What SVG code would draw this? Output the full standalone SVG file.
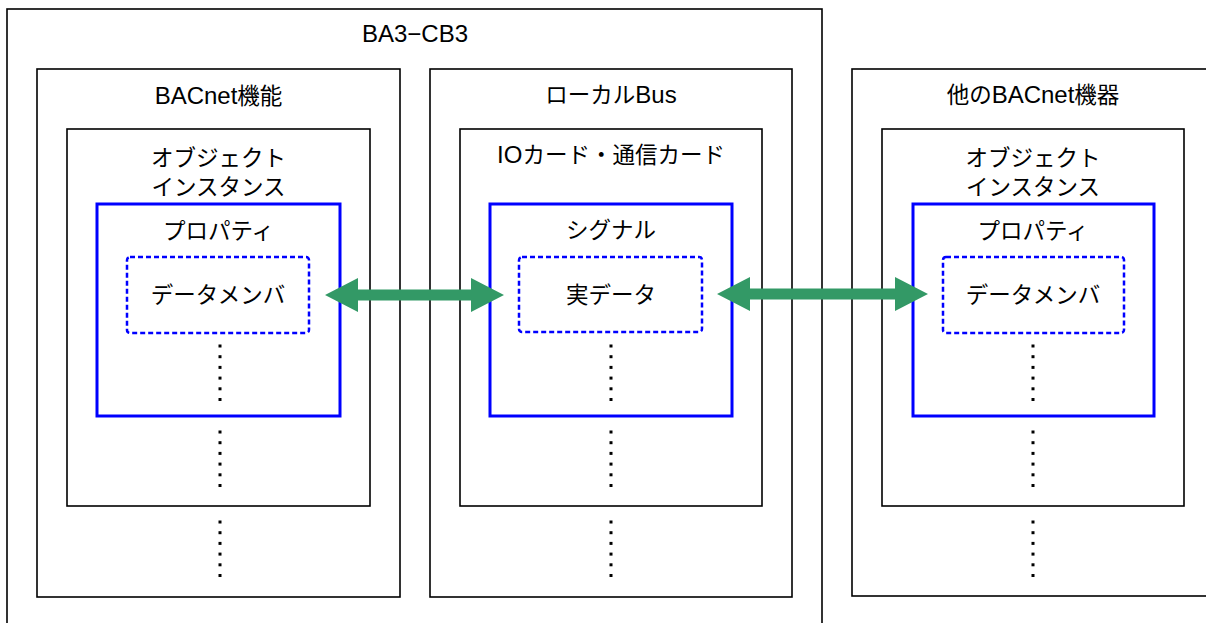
<svg xmlns="http://www.w3.org/2000/svg" xmlns:xlink="http://www.w3.org/1999/xlink" width="1206" height="623" viewBox="0 0 1206 623">
<style>
.box{fill:none;stroke:#000;stroke-width:1.6}
.prop{fill:none;stroke:#0000ff;stroke-width:3}
.dm{fill:none;stroke:#0000ff;stroke-width:2.5;stroke-dasharray:5 3}
.t{font-family:"Liberation Sans","Noto Sans CJK JP",sans-serif;font-size:22.5px;fill:#000;text-anchor:middle}
.l{font-size:24px}
.arr{fill:#339966}
</style>
<defs>
<g id="dots">
<rect x="-1.5" y="-1.5" width="3" height="3"/>
<rect x="-1.5" y="9.2" width="3" height="3"/>
<rect x="-1.5" y="19.9" width="3" height="3"/>
<rect x="-1.5" y="30.6" width="3" height="3"/>
<rect x="-1.5" y="41.3" width="3" height="3"/>
<rect x="-1.5" y="52" width="3" height="3"/>
</g>
</defs>
<rect width="1206" height="623" fill="#fff"/>
<g id="ba3-cb3">
<rect class="box" x="7" y="9" width="815" height="640"/>
<text class="t l" x="415" y="42">BA3−CB3</text>
</g>
<g id="bacnet-func">
<rect class="box" x="37" y="69" width="363" height="528"/>
<text class="t" x="218.5" y="104"><tspan class="l">BACnet</tspan>機能</text>
<use xlink:href="#dots" x="220" y="522"/>
</g>
<g id="obj-inst-1">
<rect class="box" x="67" y="129" width="303" height="377"/>
<text class="t" x="218.5" y="166">オブジェクト</text>
<text class="t" x="218.5" y="195">インスタンス</text>
<use xlink:href="#dots" x="220" y="432"/>
</g>
<g id="property-1">
<rect class="prop" x="97" y="204" width="243" height="212"/>
<text class="t" x="218.5" y="239">プロパティ</text>
<use xlink:href="#dots" x="220" y="346"/>
</g>
<g id="datamember-1">
<rect class="dm" x="127" y="257" width="182" height="76" rx="3"/>
<text class="t" x="218" y="303">データメンバ</text>
</g>
<g id="localbus">
<rect class="box" x="430" y="69" width="362" height="528"/>
<text class="t" x="611" y="103">ローカル<tspan class="l">Bus</tspan></text>
<use xlink:href="#dots" x="611" y="522"/>
</g>
<g id="io-card">
<rect class="box" x="460" y="129" width="302" height="377"/>
<text class="t" x="611" y="163"><tspan class="l">IO</tspan>カード・通信カード</text>
<use xlink:href="#dots" x="611" y="432"/>
</g>
<g id="signal">
<rect class="prop" x="490" y="204" width="242" height="212"/>
<text class="t" x="611" y="238">シグナル</text>
<use xlink:href="#dots" x="611" y="346"/>
</g>
<g id="real-data">
<rect class="dm" x="519" y="257" width="183" height="75" rx="3"/>
<text class="t" x="611" y="303">実データ</text>
</g>
<g id="other-bacnet">
<rect class="box" x="852" y="69" width="362" height="527"/>
<text class="t" x="1033" y="103">他の<tspan class="l">BACnet</tspan>機器</text>
<use xlink:href="#dots" x="1033" y="522"/>
</g>
<g id="obj-inst-2">
<rect class="box" x="882" y="129" width="302" height="377"/>
<text class="t" x="1033" y="166">オブジェクト</text>
<text class="t" x="1033" y="195">インスタンス</text>
<use xlink:href="#dots" x="1033" y="432"/>
</g>
<g id="property-2">
<rect class="prop" x="913" y="204" width="241" height="212"/>
<text class="t" x="1033" y="239">プロパティ</text>
<use xlink:href="#dots" x="1033" y="346"/>
</g>
<g id="datamember-2">
<rect class="dm" x="943" y="257" width="181" height="76" rx="3"/>
<text class="t" x="1033" y="303">データメンバ</text>
</g>
<g id="connectors">
<polygon class="arr" points="325,295 358,278 358,289.5 471,289.5 471,278 504,295 471,312 471,300.5 358,300.5 358,312"/>
<polygon class="arr" points="717,294 750,277 750,288.5 895,288.5 895,277 928,294 895,311 895,299.5 750,299.5 750,311"/>
</g>
</svg>
